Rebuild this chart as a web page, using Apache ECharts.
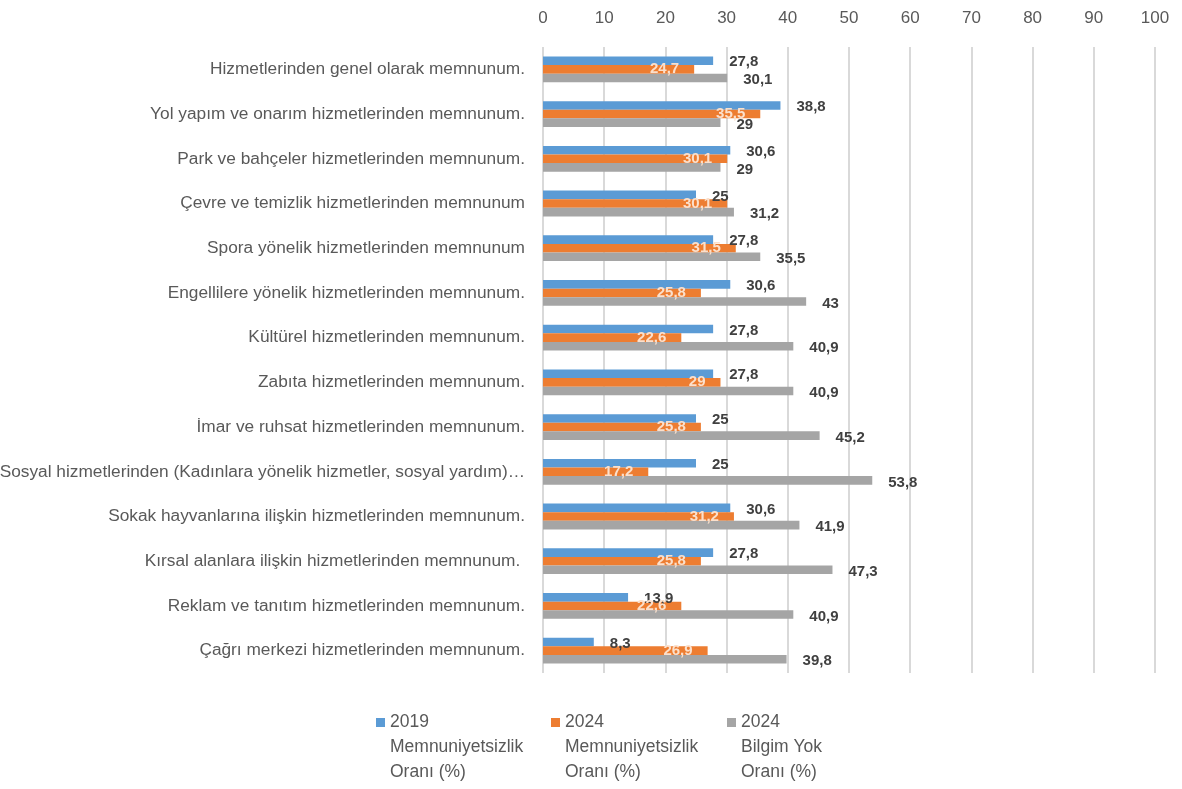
<!DOCTYPE html>
<html>
<head>
<meta charset="utf-8">
<script src="https://cdn.jsdelivr.net/npm/echarts@6/dist/echarts.min.js"></script>
<style>
  html, body { margin: 0; padding: 0; background: #ffffff; }
  #chart { width: 1182px; height: 789px; }
</style>
</head>
<body>
<div id="chart"></div>
<script>
// Service categories, top to bottom
const categories = [
  'Hizmetlerinden genel olarak memnunum.',
  'Yol yapım ve onarım hizmetlerinden memnunum.',
  'Park ve bahçeler hizmetlerinden memnunum.',
  'Çevre ve temizlik hizmetlerinden memnunum',
  'Spora yönelik hizmetlerinden memnunum',
  'Engellilere yönelik hizmetlerinden memnunum.',
  'Kültürel hizmetlerinden memnunum.',
  'Zabıta hizmetlerinden memnunum.',
  'İmar ve ruhsat hizmetlerinden memnunum.',
  'Sosyal hizmetlerinden (Kadınlara yönelik hizmetler, sosyal yardım)…',
  'Sokak hayvanlarına ilişkin hizmetlerinden memnunum.',
  'Kırsal alanlara ilişkin hizmetlerinden memnunum. ',
  'Reklam ve tanıtım hizmetlerinden memnunum.',
  'Çağrı merkezi hizmetlerinden memnunum.'
];

const seriesNames = [
  '2019\nMemnuniyetsizlik\nOranı (%)',
  '2024\nMemnuniyetsizlik\nOranı (%)',
  '2024\nBilgim Yok\nOranı (%)'
];

const dissatisfaction2019 = [27.8, 38.8, 30.6, 25, 27.8, 30.6, 27.8, 27.8, 25, 25, 30.6, 27.8, 13.9, 8.3];
const dissatisfaction2024 = [24.7, 35.5, 30.1, 30.1, 31.5, 25.8, 22.6, 29, 25.8, 17.2, 31.2, 25.8, 22.6, 26.9];
const noInfo2024 = [30.1, 29, 29, 31.2, 35.5, 43, 40.9, 40.9, 45.2, 53.8, 41.9, 47.3, 40.9, 39.8];

const colors = ['#5B9BD5', '#ED7D31', '#A5A5A5'];
const FONT = '"Liberation Sans", Arial, sans-serif';

const fmt = p => String(p.value).replace('.', ',');

const chart = echarts.init(document.getElementById('chart'), null, { renderer: 'canvas' });

// One legend per series so each block can sit at its own x position.
// Two blank lines in front keep the first text line level with the swatch.
function legendAt(name, left) {
  return {
    data: [name],
    left: left,
    top: 660,
    orient: 'horizontal',
    padding: 0,
    itemWidth: 9,
    itemHeight: 9,
    itemGap: 0,
    icon: 'rect',
    selectedMode: false,
    formatter: n => '\n\n' + n,
    textStyle: {
      fontFamily: FONT,
      fontSize: 17.5,
      color: '#595959',
      lineHeight: 25
    }
  };
}

const baseLabel = { fontFamily: FONT, fontSize: 15, fontWeight: 'bold', formatter: fmt };

const option = {
  animation: false,
  color: colors,
  grid: { left: 543, right: 27, top: 47, bottom: 116, containLabel: false, outerBoundsMode: 'none' },
  xAxis: {
    type: 'value',
    position: 'top',
    min: 0,
    max: 100,
    interval: 10,
    axisLine: { show: false },
    axisTick: { show: false },
    axisLabel: { margin: 20, fontFamily: FONT, fontSize: 17, color: '#595959' },
    splitLine: { show: true, lineStyle: { color: '#D9D9D9', width: 2 } }
  },
  yAxis: {
    type: 'category',
    data: categories,
    inverse: true,
    axisLine: { show: false },
    axisTick: { show: false },
    axisLabel: { margin: 18, fontFamily: FONT, fontSize: 17.3, color: '#595959' }
  },
  legend: [
    legendAt(seriesNames[0], 376),
    legendAt(seriesNames[1], 551),
    legendAt(seriesNames[2], 727)
  ],
  series: [
    {
      name: seriesNames[0],
      type: 'bar',
      data: dissatisfaction2019,
      barWidth: 8.6,
      barGap: '0%',
      label: Object.assign({ show: true, position: 'right', distance: 16, offset: [0, 1.5], color: '#404040' }, baseLabel)
    },
    {
      name: seriesNames[1],
      type: 'bar',
      data: dissatisfaction2024,
      barWidth: 8.6,
      barGap: '0%',
      label: Object.assign({ show: true, position: 'insideRight', distance: 15, color: '#FBE0CC' }, baseLabel)
    },
    {
      name: seriesNames[2],
      type: 'bar',
      data: noInfo2024,
      barWidth: 8.6,
      barGap: '0%',
      label: Object.assign({ show: true, position: 'right', distance: 16, offset: [0, 2], color: '#404040' }, baseLabel)
    }
  ]
};

chart.setOption(option);
</script>
</body>
</html>
